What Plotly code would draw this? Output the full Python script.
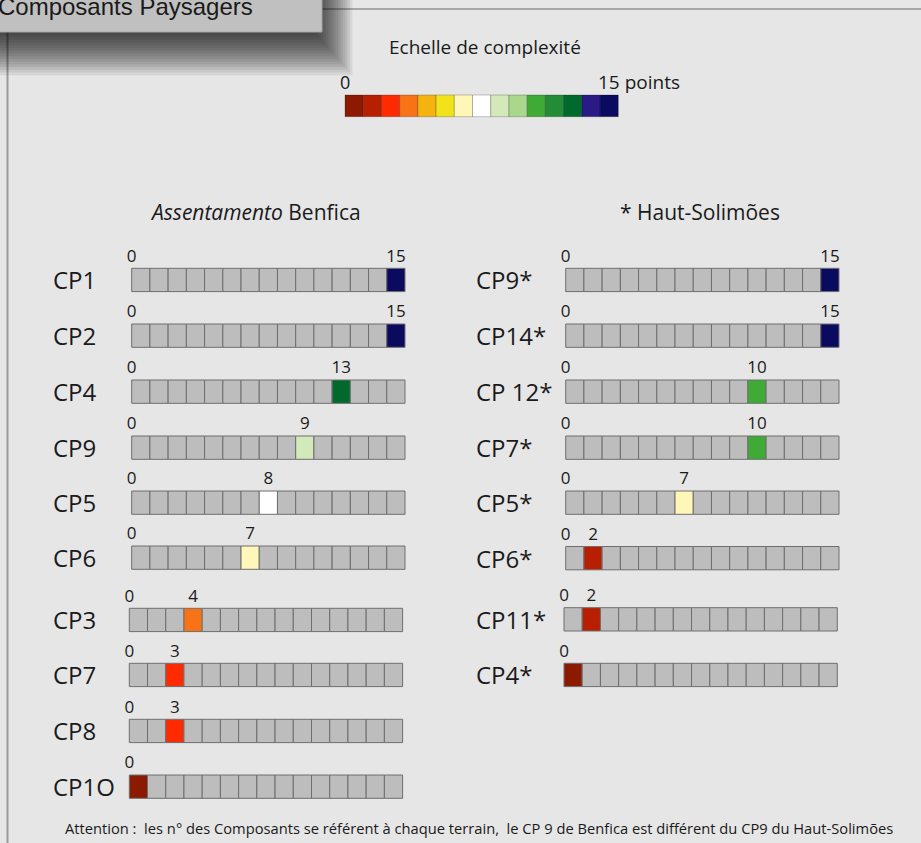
import plotly.graph_objects as go

W, H = 921, 843
BG = "#e6e6e6"
FONT = "Open Sans"
INK = "#1a1a1a"

# 15-step complexity palette (0 -> 15 points)
scale_colors = [
    "#8c1a00", "#b81e00", "#ff2a00", "#f77316", "#f4b30e",
    "#f2e21a", "#fff7b8", "#ffffff", "#d3e9b9", "#a9d78b",
    "#3faa35", "#238c37", "#006a2e", "#2a1a86", "#0a0b5e",
]

# Assentamento Benfica
benfica_labels = ["CP1", "CP2", "CP4", "CP9", "CP5", "CP6", "CP3", "CP7", "CP8", "CP1O"]
benfica_values = [15, 15, 13, 9, 8, 7, 4, 3, 3, 0]
benfica_cells = [14, 14, 11, 9, 7, 6, 3, 2, 2, 0]
benfica_shades = [14, 14, 12, 8, 7, 6, 3, 2, 2, 0]

# Haut-Solimões
solimoes_labels = ["CP9*", "CP14*", "CP 12*", "CP7*", "CP5*", "CP6*", "CP11*", "CP4*"]
solimoes_values = [15, 15, 10, 10, 7, 2, 2, 0]
solimoes_cells = [14, 14, 10, 10, 6, 1, 1, 0]
solimoes_shades = [14, 14, 10, 10, 6, 1, 1, 0]

N_CELLS = 15
CELL_W = 18.22
CELL_H = 23.3
GRID_FILL = "#bdbdbd"
GRID_LINE = "#6e6e6e"

# row geometry (pixel space)
left_tops = [268.3, 324, 380, 436, 491, 546, 608.3, 663.3, 719.3, 775]
left_x0 = [131.7] * 6 + [129.3] * 4
right_tops = [268.3, 324, 380, 436, 491, 546.5, 607.7, 663.3]
right_x0 = [565.7] * 6 + [564.0] * 2

fig = go.Figure()
shapes = []
annotations = []

# frame lines of the panel
shapes.append(dict(type="line", x0=300, x1=W, y0=9, y1=9,
                   line=dict(color="#a8a8a8", width=2), layer="below"))
shapes.append(dict(type="line", x0=7.5, x1=7.5, y0=20, y1=H,
                   line=dict(color="#9a9a9a", width=2), layer="below"))

# soft drop shadow under the title tab
for i in range(1, 17):
    shapes.append(dict(type="rect", x0=-30, x1=322 + 2.4 * i - 8, y0=-30, y1=32 + 2.7 * i,
                       fillcolor="rgba(0,0,0,0.065)", line=dict(width=0), layer="below"))
# title tab
shapes.append(dict(type="rect", x0=-5, x1=322, y0=-5, y1=32,
                   fillcolor="#c0c0c0", line=dict(color="#a6a6a6", width=1), layer="below"))
annotations.append(dict(x=0, y=6, xshift=-4, text="Composants Paysagers", showarrow=False,
                        xanchor="left", yanchor="middle",
                        font=dict(family="Liberation Sans", size=24, color=INK)))


def add_grid(x0, top, cell, shade):
    for k in range(N_CELLS):
        fill = scale_colors[shade] if k == cell else GRID_FILL
        shapes.append(dict(type="rect", x0=x0 + k * CELL_W, x1=x0 + (k + 1) * CELL_W,
                           y0=top, y1=top + CELL_H, fillcolor=fill,
                           line=dict(color=GRID_LINE, width=1)))


def add_block(labels, values, cells, shades, tops, x0s, label_x):
    tx, ty, tt = [], [], []
    for lab, val, cell, shade, top, x0 in zip(labels, values, cells, shades, tops, x0s):
        add_grid(x0, top, cell, shade)
        annotations.append(dict(x=label_x, y=top + CELL_H / 2, text=lab, showarrow=False,
                                xanchor="left", yanchor="middle",
                                font=dict(family=FONT, size=24, color=INK)))
        tx.append(x0)
        ty.append(top - 11)
        tt.append("0")
        if val != 0:
            tx.append(x0 + (cell + 0.5) * CELL_W)
            ty.append(top - 11)
            tt.append(str(val))
    fig.add_trace(go.Scatter(x=tx, y=ty, text=tt, mode="text", textposition="middle center",
                             textfont=dict(family=FONT, size=17, color=INK),
                             hoverinfo="skip", showlegend=False, cliponaxis=False))


add_block(benfica_labels, benfica_values, benfica_cells, benfica_shades,
          left_tops, left_x0, 51)
add_block(solimoes_labels, solimoes_values, solimoes_cells, solimoes_shades,
          right_tops, right_x0, 474)

# complexity scale
SCALE_X0, SCALE_TOP, SCALE_H = 345.0, 95.0, 21.7
for k, col in enumerate(scale_colors):
    shapes.append(dict(type="rect", x0=SCALE_X0 + k * CELL_W, x1=SCALE_X0 + (k + 1) * CELL_W,
                       y0=SCALE_TOP, y1=SCALE_TOP + SCALE_H, fillcolor=col,
                       line=dict(color="rgba(0,0,0,0.22)", width=1)))
annotations.append(dict(x=485, y=47, text="Echelle de complexité", showarrow=False,
                        xanchor="center", yanchor="middle",
                        font=dict(family=FONT, size=19, color=INK)))
annotations.append(dict(x=SCALE_X0, y=82, text="0", showarrow=False,
                        xanchor="center", yanchor="middle",
                        font=dict(family=FONT, size=18, color=INK)))
annotations.append(dict(x=596, y=82, text="15 points", showarrow=False,
                        xanchor="left", yanchor="middle",
                        font=dict(family=FONT, size=19, color=INK)))

# block headings
annotations.append(dict(x=255, y=212, text="<i>Assentamento</i> Benfica", showarrow=False,
                        xanchor="center", yanchor="middle",
                        font=dict(family=FONT, size=21, color=INK)))
annotations.append(dict(x=700, y=212, text="* Haut-Solimões", showarrow=False,
                        xanchor="center", yanchor="middle",
                        font=dict(family=FONT, size=21, color=INK)))

# footnote
annotations.append(dict(x=479, y=828,
                        text="Attention :  les n° des Composants se référent à chaque terrain,  "
                             "le CP 9 de Benfica est différent du CP9 du Haut-Solimões",
                        showarrow=False, xanchor="center", yanchor="middle",
                        font=dict(family=FONT, size=14.7, color=INK)))

fig.update_layout(
    width=W, height=H,
    margin=dict(l=0, r=0, t=0, b=0),
    paper_bgcolor=BG, plot_bgcolor=BG,
    xaxis=dict(range=[0, W], visible=False, fixedrange=True),
    yaxis=dict(range=[H, 0], visible=False, fixedrange=True),
    shapes=shapes, annotations=annotations,
    showlegend=False,
)

fig.write_html("out.html", config={"displayModeBar": False})
